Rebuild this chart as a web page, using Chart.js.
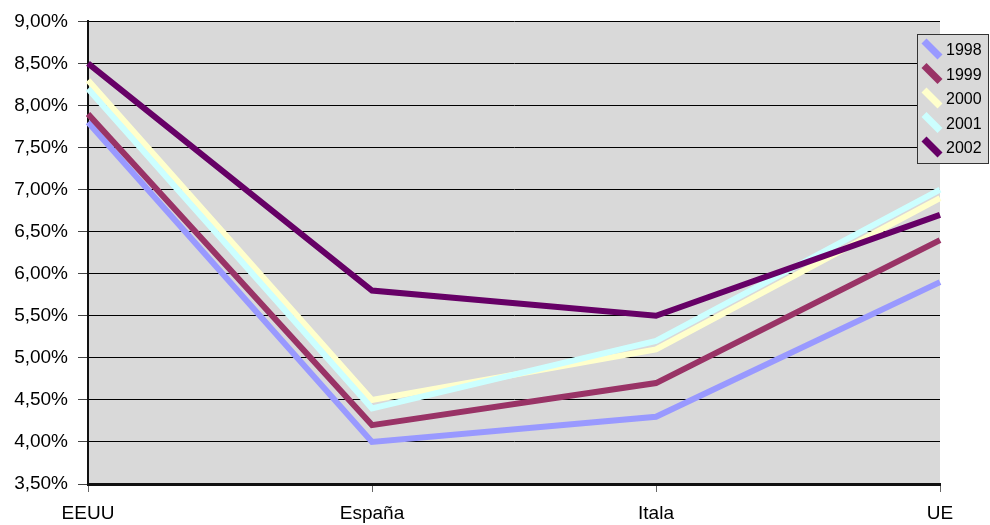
<!DOCTYPE html>
<html>
<head>
<meta charset="utf-8">
<script src="https://cdn.jsdelivr.net/npm/chart.js@4.4.1/dist/chart.umd.min.js"></script>
<style>
  html,body{margin:0;padding:0;background:#fff;}
  #wrap{width:990px;height:525px;}
</style>
</head>
<body>
<div id="wrap"><canvas id="chart" width="990" height="525"></canvas></div>
<script>
/* ── DATA ─────────────────────────────────────────── */
const categories = ['EEUU','España','Itala','UE'];
const years      = ['1998','1999','2000','2001','2002'];
const v1998 = [7.8, 4.0, 4.3, 5.9];
const v1999 = [7.9, 4.2, 4.7, 6.4];
const v2000 = [8.3, 4.5, 5.1, 6.9];
const v2001 = [8.2, 4.4, 5.2, 7.0];
const v2002 = [8.5, 5.8, 5.5, 6.7];
const seriesValues = [v1998, v1999, v2000, v2001, v2002];
const colors = ['#9999FF','#993366','#FFFFCC','#CCFFFF','#660066'];

/* ── PLUGINS ──────────────────────────────────────── */
const plotBg = {
  id:'plotBg',
  beforeDraw(chart){
    const {ctx, chartArea:a} = chart;
    ctx.save();
    ctx.fillStyle = '#D9D9D9';
    ctx.fillRect(a.left, a.top, a.right - a.left, a.bottom - a.top);
    ctx.restore();
  }
};

const boxLegend = {
  id:'boxLegend',
  afterDraw(chart){
    const ctx = chart.ctx;
    const x0 = 917, y0 = 34, w = 72, h = 130;
    ctx.save();
    ctx.fillStyle = '#D9D9D9';
    ctx.fillRect(x0, y0, w, h);
    ctx.strokeStyle = '#333';
    ctx.lineWidth = 1;
    ctx.strokeRect(x0 + .5, y0 + .5, w - 1, h - 1);
    ctx.font = '16px "Liberation Sans", Arial, sans-serif';
    ctx.textBaseline = 'middle';
    ctx.textAlign = 'left';
    chart.data.datasets.forEach((ds, i) => {
      const cy = 50 + i * 24.5;
      ctx.strokeStyle = ds.borderColor;
      ctx.lineWidth = 7;
      ctx.lineCap = 'butt';
      ctx.beginPath();
      ctx.moveTo(924, cy - 9);
      ctx.lineTo(940, cy + 7);
      ctx.stroke();
      ctx.fillStyle = '#000';
      ctx.fillText(ds.label, 946, cy + 1);
    });
    ctx.restore();
  }
};

/* ── CHART ────────────────────────────────────────── */
const datasets = years.map((y, i) => ({
  label: y,
  data: seriesValues[i],
  borderColor: colors[i],
  backgroundColor: colors[i],
  borderWidth: 6,
  pointRadius: 0,
  tension: 0,
  order: years.length - i
}));

const axisFont = { family:'"Liberation Sans", Arial, sans-serif', size:19 };

new Chart(document.getElementById('chart'), {
  type:'line',
  data:{ labels: categories, datasets },
  options:{
    responsive:false,
    animation:false,
    layout:{ padding:{ top:21, right:50, left:0, bottom:0 } },
    plugins:{ legend:{display:false}, tooltip:{enabled:false} },
    scales:{
      x:{
        offset:false,
        grid:{ drawOnChartArea:false, drawTicks:true, tickLength:8, tickColor:'#666', lineWidth:1 },
        border:{ display:true, color:'#111', width:3 },
        ticks:{ color:'#000', padding:10, maxRotation:0, font:axisFont },
        afterFit(scale){ scale.height = 41; }
      },
      y:{
        min:3.5, max:9,
        grid:{ color:'#000', lineWidth:1, drawTicks:true, tickLength:10, tickColor:'#444' },
        border:{ display:true, color:'#111', width:2 },
        ticks:{
          stepSize:0.5, color:'#000', padding:10,
          font:axisFont,
          callback: v => v.toFixed(2).replace('.', ',') + '%'
        },
        afterFit(scale){ scale.width = 88; }
      }
    }
  },
  plugins:[plotBg, boxLegend]
});
</script>
</body>
</html>
